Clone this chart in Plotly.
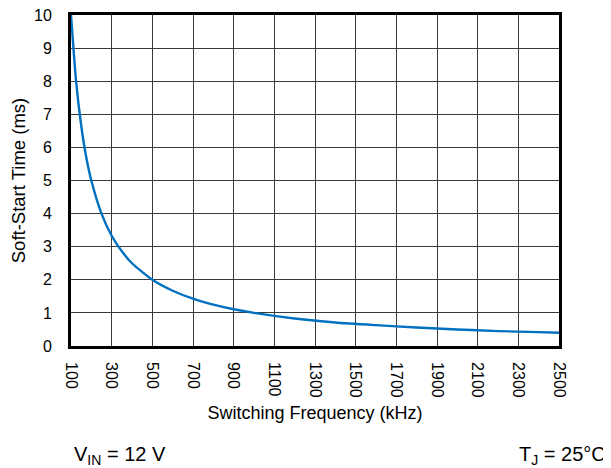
import plotly.graph_objects as go

freq_khz = [100, 125, 150, 175, 200, 250, 300, 350, 400, 500, 600, 700, 800, 900, 1000,
            1200, 1400, 1600, 1800, 2000, 2200, 2400, 2500]
soft_start_ms = [10.0, 8.0, 6.67, 5.7, 5.0, 4.0, 3.33, 2.86, 2.5, 2.0, 1.67, 1.43, 1.25, 1.11, 1.0,
                 0.83, 0.71, 0.63, 0.56, 0.5, 0.45, 0.42, 0.4]
x_ticks = list(range(100, 2501, 200))
y_ticks = list(range(0, 11))

font = "Liberation Sans, Arial, sans-serif"

fig = go.Figure()
fig.add_trace(go.Scatter(x=freq_khz, y=soft_start_ms, mode="lines",
                         line=dict(color="#0070C0", width=2.4, shape="spline", smoothing=0.6),
                         showlegend=False, hoverinfo="skip"))

axis_common = dict(showgrid=True, gridcolor="#3a3a3a", gridwidth=1,
                   showline=True, linecolor="black", linewidth=2.8, mirror=True,
                   ticks="", zeroline=False, automargin=False,
                   ticklabeloverflow="allow",
                   tickfont=dict(size=16, color="black"))

fig.update_layout(
    width=603, height=460,
    margin=dict(l=63, r=52, t=7, b=122, autoexpand=False),
    paper_bgcolor="white", plot_bgcolor="white",
    font=dict(family=font, color="black", size=16),
    xaxis=dict(range=[100, 2500], tickvals=x_ticks, ticktext=[str(v) for v in x_ticks],
               tickangle=90, ticklabelstandoff=10,
               title=dict(text="Switching Frequency (kHz)", font=dict(size=18), standoff=10),
               **axis_common),
    yaxis=dict(range=[0, 10], tickvals=y_ticks, ticklabelstandoff=13,
               title=dict(text="Soft-Start Time (ms)", font=dict(size=18.5), standoff=8),
               **axis_common),
)

fig.add_annotation(text="V<sub>IN</sub> = 12 V", xref="paper", yref="paper",
                   x=0.002, y=-0.332, xanchor="left", yanchor="middle",
                   showarrow=False, font=dict(size=20))
fig.add_annotation(text="T<sub>J</sub> = 25°C", xref="paper", yref="paper",
                   x=1.1, y=-0.332, xanchor="right", yanchor="middle",
                   showarrow=False, font=dict(size=20))

fig.write_html("out.html")
